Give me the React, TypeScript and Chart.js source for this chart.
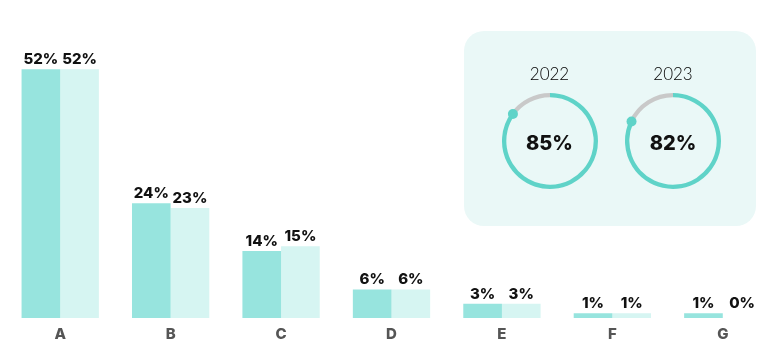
import React, { useEffect, useRef } from 'react';
import { Chart, registerables } from 'chart.js';

Chart.register(...registerables);

const categories = ['A', 'B', 'C', 'D', 'E', 'F', 'G'];
const seriesNames = ['2022', '2023'];
const values2022 = [52, 24, 14, 6, 3, 1, 1];
const values2023 = [52, 23, 15, 6, 3, 1, 0];
const gaugeYears = ['2022', '2023'];
const gaugeValues = [85, 82];

const TEAL_DARK = '#97E4DE';
const TEAL_LIGHT = '#D6F5F2';
const RING = '#5FD3C8';
const RING_GRAY = '#C9C9C9';
const FONT = 'Lato, "Open Sans", sans-serif';
const BOLD_FONT = 'Inter, Lato, sans-serif';

function BarChart() {
  const ref = useRef<HTMLCanvasElement>(null);
  useEffect(() => {
    const labelPlugin = {
      id: 'barLabels',
      afterDatasetsDraw(chart: any) {
        const ctx = chart.ctx;
        ctx.save();
        ctx.font = `800 15px ${BOLD_FONT}`;
        ctx.fillStyle = '#111111';
        ctx.textAlign = 'center';
        ctx.textBaseline = 'alphabetic';
        chart.data.datasets.forEach((ds: any, di: number) => {
          const meta = chart.getDatasetMeta(di);
          meta.data.forEach((bar: any, i: number) => {
            const v = ds.data[i];
            const y = Math.min(bar.y, bar.base - 5) - 5;
            ctx.fillText(`${v}%`, bar.x, y);
          });
        });
        ctx.restore();
      },
    };
    const chart = new Chart(ref.current as HTMLCanvasElement, {
      type: 'bar',
      data: {
        labels: categories,
        datasets: [
          { label: seriesNames[0], data: values2022, backgroundColor: TEAL_DARK, borderWidth: 0 },
          { label: seriesNames[1], data: values2023, backgroundColor: TEAL_LIGHT, borderWidth: 0 },
        ],
      },
      options: {
        animation: false,
        responsive: false,
        devicePixelRatio: 1,
        layout: { padding: { left: 5, right: 2, top: 31, bottom: 3.9 } },
        datasets: { bar: { categoryPercentage: 0.7, barPercentage: 1 } },
        plugins: { legend: { display: false }, tooltip: { enabled: false } },
        scales: {
          x: {
            grid: { display: false, drawTicks: false },
            border: { display: false },
            ticks: { color: '#555555', font: { family: BOLD_FONT, size: 15, weight: '800' }, padding: 7 },
          },
          y: { display: false, min: 0, max: 60 },
        },
      } as any,
      plugins: [labelPlugin],
    });
    return () => chart.destroy();
  }, []);
  return (
    <canvas
      ref={ref}
      width={780}
      height={354}
      style={{ position: 'absolute', left: 0, top: 0, width: 780, height: 354 }}
    />
  );
}

function Gauge({ value, cx, cy }: { value: number; cx: number; cy: number }) {
  const ref = useRef<HTMLCanvasElement>(null);
  useEffect(() => {
    const dotPlugin = {
      id: 'endDot',
      afterDatasetsDraw(chart: any) {
        const arc = chart.getDatasetMeta(0).data[0];
        if (!arc) return;
        const ctx = chart.ctx;
        const rMid = (arc.outerRadius + arc.innerRadius) / 2;
        const x = arc.x + Math.cos(arc.endAngle) * rMid;
        const y = arc.y + Math.sin(arc.endAngle) * rMid;
        ctx.save();
        ctx.beginPath();
        ctx.arc(x, y, 5, 0, Math.PI * 2);
        ctx.fillStyle = RING;
        ctx.fill();
        ctx.restore();
      },
    };
    const chart = new Chart(ref.current as HTMLCanvasElement, {
      type: 'doughnut',
      data: {
        labels: ['value', 'rest'],
        datasets: [
          {
            data: [value, 100 - value],
            backgroundColor: [RING, RING_GRAY],
            borderWidth: 0,
          },
        ],
      },
      options: {
        animation: false,
        responsive: false,
        devicePixelRatio: 1,
        cutout: '91%',
        layout: { padding: 4 },
        plugins: { legend: { display: false }, tooltip: { enabled: false } },
      } as any,
      plugins: [dotPlugin],
    });
    return () => chart.destroy();
  }, [value]);
  return (
    <canvas
      ref={ref}
      width={104}
      height={104}
      style={{ position: 'absolute', left: cx - 52, top: cy - 52, width: 104, height: 104 }}
    />
  );
}

export default function App() {
  const centers = [549.5, 673];
  const cy = 141;
  return (
    <div
      style={{
        position: 'fixed',
        left: 0,
        top: 0,
        width: 768,
        height: 354,
        overflow: 'hidden',
        background: '#ffffff',
        fontFamily: FONT,
      }}
    >
      <div
        style={{
          position: 'absolute',
          left: 464,
          top: 31,
          width: 292,
          height: 195,
          borderRadius: 20,
          background: '#EAF8F7',
        }}
      />
      <BarChart />
      {gaugeValues.map((v, i) => (
        <React.Fragment key={i}>
          <div
            style={{
              position: 'absolute',
              left: centers[i] - 50,
              top: 64,
              width: 100,
              lineHeight: '20px',
              fontSize: 17,
              fontWeight: 300,
              textAlign: 'center',
              color: '#000000',
            }}
          >
            {gaugeYears[i]}
          </div>
          <Gauge value={v} cx={centers[i]} cy={cy} />
          <div
            style={{
              position: 'absolute',
              left: centers[i] - 50,
              top: cy - 13,
              width: 100,
              lineHeight: '30px',
              fontSize: 20,
              fontWeight: 800,
              fontFamily: BOLD_FONT,
              textAlign: 'center',
              color: '#111111',
            }}
          >
            {v}%
          </div>
        </React.Fragment>
      ))}
    </div>
  );
}
